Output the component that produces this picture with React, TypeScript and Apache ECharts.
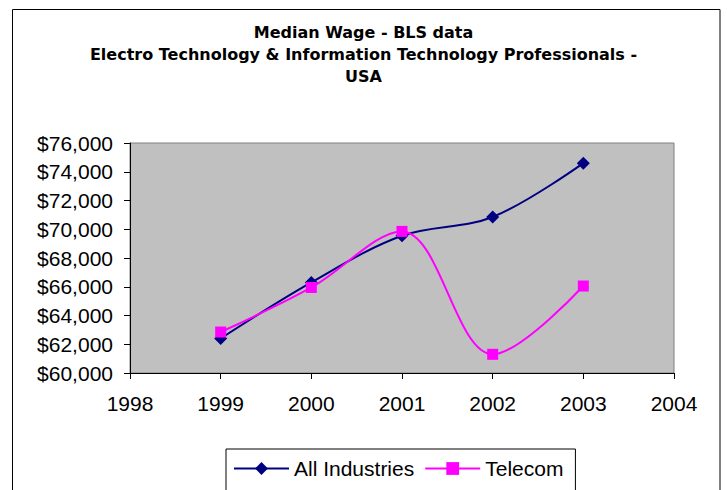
import React, { useEffect, useRef } from "react";
import * as echarts from "echarts";

const titleLines = [
  "Median Wage - BLS data",
  "Electro Technology & Information Technology Professionals -",
  "USA",
];
const years = [1999, 2000, 2001, 2002, 2003];
const allIndustries = [62400, 66300, 69550, 70850, 74600];
const telecom = [62850, 65950, 69850, 61300, 66050];
const seriesNames = ["All Industries", "Telecom"];

const FONT = "Liberation Sans, Arial, sans-serif";

export default function App() {
  const ref = useRef<HTMLDivElement>(null);
  useEffect(() => {
    if (!ref.current) return;
    const chart = echarts.init(ref.current, undefined, { renderer: "svg" });
    const option: any = {
      animation: false,
      backgroundColor: "#fff",
      title: {
        text: titleLines.join("\n"),
        left: "center",
        top: 21,
        padding: 0,
        textStyle: {
          fontFamily: "DejaVu Sans",
          fontWeight: "bold",
          fontSize: 16,
          lineHeight: 22,
          color: "#000",
        },
      },
      graphic: [
        {
          type: "rect",
          shape: { x: 12.5, y: 9.5, width: 707.5, height: 520 },
          style: { fill: "none", stroke: "#000", lineWidth: 1 },
          silent: true,
          z: -1,
        },
      ],
      grid: {
        left: 130,
        right: 53,
        top: 143,
        bottom: 117,
        show: true,
        backgroundColor: "#C0C0C0",
        borderColor: "#808080",
        borderWidth: 1,
      },
      legend: {
        left: 226,
        top: 449,
        padding: [9, 12, 30, 7],
        itemWidth: 55,
        itemHeight: 16,
        itemGap: 10,
        borderColor: "#000",
        borderWidth: 1,
        textStyle: { fontFamily: FONT, fontSize: 21, color: "#000" },
        data: seriesNames,
      },
      xAxis: {
        type: "value",
        min: 1998,
        max: 2004,
        interval: 1,
        axisLine: { show: true, lineStyle: { color: "#000", width: 1 } },
        axisTick: { show: true, length: 6, lineStyle: { color: "#000" } },
        axisLabel: {
          margin: 20,
          fontFamily: FONT,
          fontSize: 21,
          color: "#000",
          formatter: (v: number) => String(v),
        },
        splitLine: { show: false },
      },
      yAxis: {
        type: "value",
        min: 60000,
        max: 76000,
        interval: 2000,
        axisLine: { show: true, lineStyle: { color: "#000", width: 1 } },
        axisTick: { show: true, length: 6, lineStyle: { color: "#000" } },
        axisLabel: {
          margin: 17,
          fontFamily: FONT,
          fontSize: 21,
          color: "#000",
          formatter: (v: number) => "$" + v.toLocaleString("en-US"),
        },
        splitLine: { show: false },
      },
      series: [
        {
          name: seriesNames[0],
          type: "line",
          smooth: 0.35,
          data: years.map((y, i) => [y, allIndustries[i]]),
          symbol: "diamond",
          symbolSize: 13,
          itemStyle: { color: "#000080" },
          lineStyle: { color: "#000080", width: 2 },
          z: 2,
        },
        {
          name: seriesNames[1],
          type: "line",
          smooth: 0.35,
          data: years.map((y, i) => [y, telecom[i]]),
          symbol: "rect",
          symbolSize: 11,
          itemStyle: { color: "#FF00FF" },
          lineStyle: { color: "#FF00FF", width: 2 },
          z: 3,
        },
      ],
    };
    chart.setOption(option);
    return () => chart.dispose();
  }, []);
  return (
    <div
      ref={ref}
      style={{ position: "absolute", left: 0, top: 0, width: 727, height: 490 }}
    />
  );
}
